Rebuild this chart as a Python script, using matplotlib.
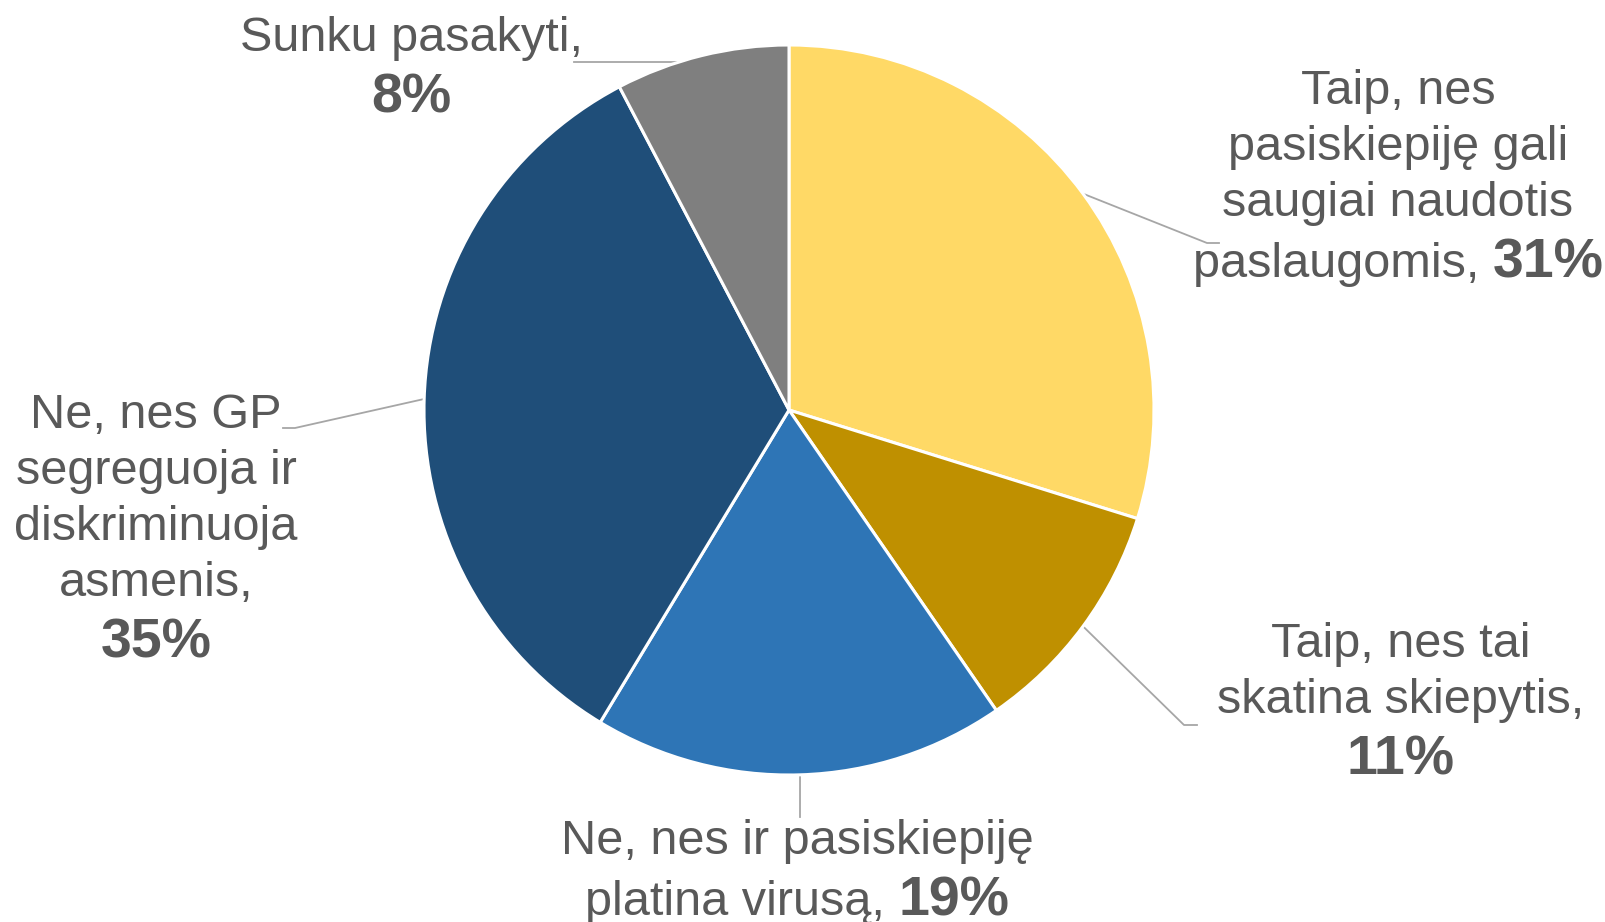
import numpy as np
import matplotlib
matplotlib.use('Agg')
import matplotlib.pyplot as plt
from matplotlib.offsetbox import TextArea, HPacker, VPacker, AnnotationBbox

plt.rcParams['font.family'] = 'Liberation Sans'

# data (clockwise from 12 o'clock); each label: lines of (text, bold) parts
labels = [
    [[("Taip, nes", False)], [("pasiskiepiję gali", False)],
     [("saugiai naudotis", False)], [("paslaugomis, ", False), ("31%", True)]],
    [[("Taip, nes tai", False)], [("skatina skiepytis,", False)], [("11%", True)]],
    [[("Ne, nes ir pasiskiepiję", False)], [("platina virusą, ", False), ("19%", True)]],
    [[("Ne, nes GP", False)], [("segreguoja ir", False)], [("diskriminuoja", False)],
     [("asmenis,", False)], [("35%", True)]],
    [[("Sunku pasakyti,", False)], [("8%", True)]],
]
values = [31, 11, 19, 35, 8]
colors = ['#FFD966', '#BF9000', '#2E75B6', '#1F4E79', '#7F7F7F']

W, H = 1605, 922
fig = plt.figure(figsize=(W / 100, H / 100), dpi=100)
ax = fig.add_axes([0, 0, 1, 1])

cx, cy, r = 789, H - 410, 365
ax.pie(values, colors=colors, startangle=90, counterclock=False,
       radius=r, center=(cx, cy),
       wedgeprops=dict(edgecolor='white', linewidth=2.2))
ax.set_xlim(0, W)
ax.set_ylim(0, H)
ax.set_aspect('equal')
ax.axis('off')

# label placement (pixel coords, y measured from top)
text_pos = [(1398, 179), (1401, 704), (797, 873), (156, 531), (411, 70)]
elbows = [
    [(1207, 243), (1219, 243)],
    [(1184, 725), (1197, 725)],
    [(800, 817)],
    [(295, 428), (283, 428)],
    [(690, 62), (574, 62)],
]

txt_color = '#595959'


def make_label(lines):
    rows = []
    for parts in lines:
        areas = [TextArea(t, textprops=dict(fontsize=40 if b else 35,
                                            fontweight='bold' if b else 'normal',
                                            color=txt_color))
                 for t, b in parts]
        rows.append(HPacker(children=areas, align='baseline', pad=0, sep=0))
    return VPacker(children=rows, align='center', pad=0, sep=8)


tot = float(sum(values))
cum = 0.0
for i, v in enumerate(values):
    mid = np.deg2rad(90 - 360 * (cum + v / 2) / tot)
    cum += v
    px = [cx + r * np.cos(mid)] + [p[0] for p in elbows[i]]
    py = [cy + r * np.sin(mid)] + [H - p[1] for p in elbows[i]]
    ax.plot(px, py, color='#A6A6A6', lw=1.3, zorder=0)
    tx, ty = text_pos[i]
    ab = AnnotationBbox(make_label(labels[i]), (tx, H - ty), xycoords='data',
                        frameon=False, box_alignment=(0.5, 0.5), pad=0)
    ax.add_artist(ab)

fig.savefig('out.png', dpi=100)
